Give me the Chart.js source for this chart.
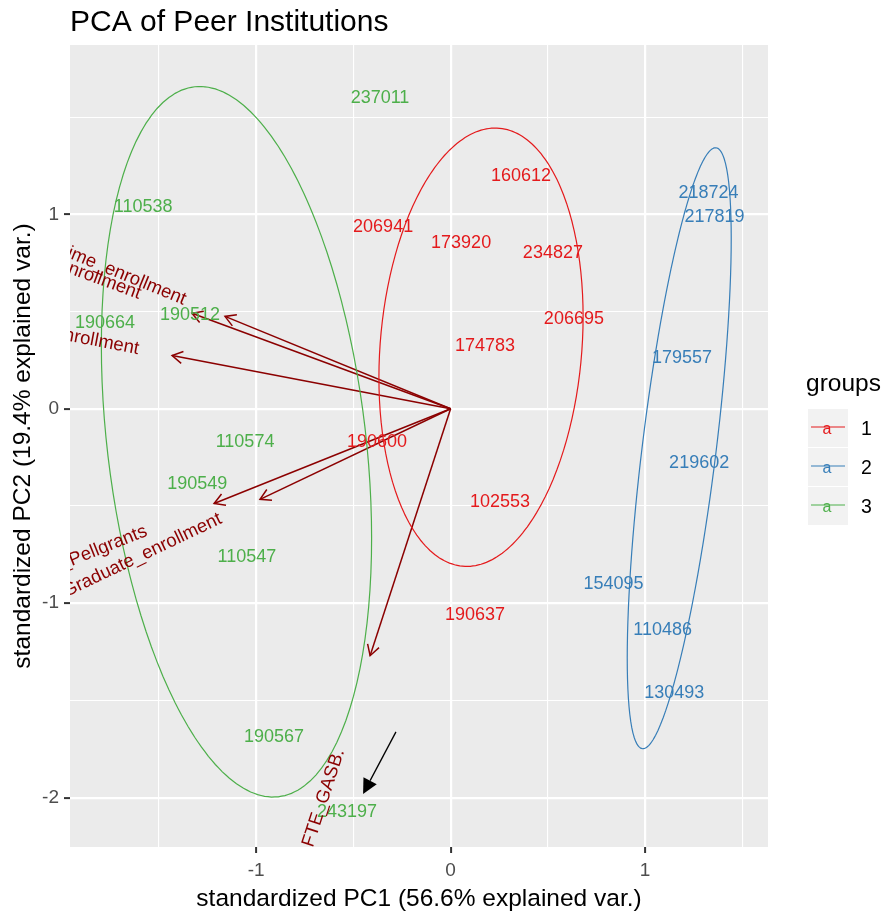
<!DOCTYPE html>
<html>
<head>
<meta charset="utf-8">
<title>PCA of Peer Institutions</title>
<script src="https://cdn.jsdelivr.net/npm/chart.js@4.4.1/dist/chart.umd.min.js"></script>
<style>
  html, body { margin: 0; padding: 0; background: #ffffff; }
  canvas { display: block; }
</style>
</head>
<body>
<canvas id="pcaChart" width="886" height="917" style="width:886px;height:917px"></canvas>
<script>
// groups and their colours (Set1)
const groupNames = ['1', '2', '3'];
const groupColors = ['#E41A1C', '#377EB8', '#4DAF4A'];

// institution scores
const group1Ids = ['160612', '206941', '173920', '234827', '206695', '174783', '190600', '102553', '190637'];
const group1PC1 = [0.362, -0.347, 0.054, 0.526, 0.634, 0.177, -0.378, 0.254, 0.125];
const group1PC2 = [1.196, 0.933, 0.851, 0.800, 0.460, 0.321, -0.171, -0.481, -1.060];

const group2Ids = ['218724', '217819', '179557', '219602', '154095', '110486', '130493'];
const group2PC1 = [1.326, 1.357, 1.190, 1.278, 0.838, 1.090, 1.150];
const group2PC2 = [1.109, 0.985, 0.259, -0.277, -0.900, -1.136, -1.461];

const group3Ids = ['237011', '110538', '190664', '190512', '110574', '190549', '110547', '190567', '243197'];
const group3PC1 = [-0.363, -1.581, -1.777, -1.340, -1.057, -1.303, -1.047, -0.908, -0.533];
const group3PC2 = [1.598, 1.036, 0.442, 0.483, -0.171, -0.387, -0.763, -1.690, -2.076];

// variable loadings (arrows)
const varNames = ['Undergraduate_enrollment', 'Full_time_enrollment', 'Total_enrollment',
                  'Pct_of_undergrads_with_Pellgrants', 'Graduate_enrollment',
                  'Instruction_expenses_per_student_FTE_GASB.'];
const varPC1 = [-1.330, -1.160, -1.432, -1.216, -0.980, -0.414];
const varPC2 = [0.491, 0.475, 0.274, -0.487, -0.466, -1.270];

// tick labels
const xTickLabels = [-1, 0, 1];
const yTickLabels = [-2, -1, 0, 1];

// the black pointer drawn on top of the picture (start, tip)
const noteArrowPC1 = [-0.281, -0.450];
const noteArrowPC2 = [-1.662, -1.981];

const FONT = "'Liberation Sans', Arial, Helvetica, sans-serif";
Chart.defaults.font.family = FONT;

function isWhole(v) {
    return Math.abs(v - Math.round(v)) < 1e-9;
}

// normal data ellipse, as ggbiplot draws it (ellipse.prob = 0.68)
function dataEllipse(xs, ys) {
    const n = xs.length;
    const mx = xs.reduce((a, b) => a + b, 0) / n;
    const my = ys.reduce((a, b) => a + b, 0) / n;
    let sxx = 0, syy = 0, sxy = 0;
    for (let i = 0; i < n; i++) {
        const dx = xs[i] - mx, dy = ys[i] - my;
        sxx += dx * dx; syy += dy * dy; sxy += dx * dy;
    }
    sxx /= (n - 1); syy /= (n - 1); sxy /= (n - 1);
    const a = Math.sqrt(sxx), b = sxy / a, c = Math.sqrt(syy - b * b);
    const ed = Math.sqrt(-2 * Math.log(1 - 0.68));
    const pts = [];
    for (let k = 0; k <= 120; k++) {
        const t = -Math.PI + 2 * Math.PI * k / 120;
        const cx = Math.cos(t), cy = Math.sin(t);
        pts.push({ x: mx + ed * cx * a, y: my + ed * (cx * b + cy * c) });
    }
    return pts;
}

function toPoints(xs, ys) {
    return xs.map((x, i) => ({ x: x, y: ys[i] }));
}

const groups = [
    { ids: group1Ids, pc1: group1PC1, pc2: group1PC2 },
    { ids: group2Ids, pc1: group2PC1, pc2: group2PC2 },
    { ids: group3Ids, pc1: group3PC1, pc2: group3PC2 }
];

const datasets = [];

// arrows first (drawn underneath)
varNames.forEach((name, i) => {
    datasets.push({
        kind: 'arrow',
        label: name,
        data: [{ x: 0, y: 0 }, { x: varPC1[i], y: varPC2[i] }],
        showLine: true,
        borderColor: '#8B0000',
        borderWidth: 1.5,
        pointRadius: 0,
        order: 3
    });
});

// invisible points carrying the institution labels
groups.forEach((g, gi) => {
    datasets.push({
        kind: 'labels',
        label: 'group ' + groupNames[gi],
        ids: g.ids,
        color: groupColors[gi],
        data: toPoints(g.pc1, g.pc2),
        pointRadius: 0,
        pointHoverRadius: 0,
        order: 2
    });
});

// ellipses (tiny tension keeps Chart.js off its fast path, which breaks closed curves)
groups.forEach((g, gi) => {
    datasets.push({
        kind: 'ellipse',
        label: 'ellipse ' + groupNames[gi],
        data: dataEllipse(g.pc1, g.pc2),
        showLine: true,
        borderColor: groupColors[gi],
        borderWidth: 1.2,
        pointRadius: 0,
        tension: 0.001,
        order: 1
    });
});

// pointer dataset, positions through the scales
datasets.push({
    kind: 'note',
    label: 'note',
    data: toPoints(noteArrowPC1, noteArrowPC2),
    pointRadius: 0,
    order: 0
});

const biplotExtras = {
    id: 'biplotExtras',
    beforeDraw(chart) {
        const { ctx, chartArea } = chart;
        ctx.save();
        ctx.fillStyle = '#EBEBEB';
        ctx.fillRect(chartArea.left, chartArea.top, chartArea.right - chartArea.left, chartArea.bottom - chartArea.top);
        ctx.restore();
    },
    afterDatasetDraw(chart, args) {
        const ds = chart.data.datasets[args.index];
        const { ctx, chartArea } = chart;
        const pts = args.meta.data;
        ctx.save();
        ctx.beginPath();
        ctx.rect(chartArea.left, chartArea.top, chartArea.right - chartArea.left, chartArea.bottom - chartArea.top);
        ctx.clip();
        if (ds.kind === 'arrow') {
            // open arrow head
            const x0 = pts[0].x, y0 = pts[0].y, x1 = pts[1].x, y1 = pts[1].y;
            const ang = Math.atan2(y1 - y0, x1 - x0);
            const len = 12, spread = Math.PI / 6;
            ctx.strokeStyle = '#8B0000';
            ctx.lineWidth = 1.5;
            ctx.beginPath();
            ctx.moveTo(x1 - len * Math.cos(ang - spread), y1 - len * Math.sin(ang - spread));
            ctx.lineTo(x1, y1);
            ctx.lineTo(x1 - len * Math.cos(ang + spread), y1 - len * Math.sin(ang + spread));
            ctx.stroke();
        } else if (ds.kind === 'labels') {
            ctx.fillStyle = ds.color;
            ctx.font = '18px ' + FONT;
            ctx.textAlign = 'center';
            ctx.textBaseline = 'middle';
            pts.forEach((p, i) => ctx.fillText(ds.ids[i], p.x, p.y));
        }
        ctx.restore();
    },
    afterDatasetsDraw(chart) {
        const { ctx, chartArea } = chart;
        ctx.save();
        ctx.beginPath();
        ctx.rect(chartArea.left, chartArea.top, chartArea.right - chartArea.left, chartArea.bottom - chartArea.top);
        ctx.clip();
        // variable names, placed like ggbiplot (varname.adjust = 1.5)
        ctx.fillStyle = '#8B0000';
        ctx.font = '18.5px ' + FONT;
        ctx.textAlign = 'left';
        ctx.textBaseline = 'middle';
        chart.data.datasets.forEach((ds, i) => {
            if (ds.kind !== 'arrow') return;
            const tip = chart.getDatasetMeta(i).data[1];
            const vx = ds.data[1].x, vy = ds.data[1].y;
            const angle = Math.atan(vy / vx);
            const hjust = (1 - 1.5 * Math.sign(vx)) / 2;
            const w = ctx.measureText(ds.label).width;
            ctx.save();
            ctx.translate(tip.x, tip.y);
            ctx.rotate(-angle);
            ctx.fillText(ds.label, -hjust * w, 0);
            ctx.restore();
        });
        // black pointer
        const noteIdx = chart.data.datasets.findIndex(d => d.kind === 'note');
        const np = chart.getDatasetMeta(noteIdx).data;
        const sx = np[0].x, sy = np[0].y, tx = np[1].x, ty = np[1].y;
        const a = Math.atan2(ty - sy, tx - sx);
        const hl = 15, hw = 7.5;
        const bx = tx - hl * Math.cos(a), by = ty - hl * Math.sin(a);
        ctx.strokeStyle = '#000000';
        ctx.fillStyle = '#000000';
        ctx.lineWidth = 1.3;
        ctx.beginPath();
        ctx.moveTo(sx, sy);
        ctx.lineTo(bx, by);
        ctx.stroke();
        ctx.beginPath();
        ctx.moveTo(tx, ty);
        ctx.lineTo(bx + hw * Math.sin(a), by - hw * Math.cos(a));
        ctx.lineTo(bx - hw * Math.sin(a), by + hw * Math.cos(a));
        ctx.closePath();
        ctx.fill();
        ctx.restore();
    },
    afterDraw(chart) {
        const { ctx } = chart;
        ctx.save();
        // title
        ctx.fillStyle = '#000000';
        ctx.font = '30px ' + FONT;
        ctx.textAlign = 'left';
        ctx.textBaseline = 'alphabetic';
        ctx.fillText('PCA of Peer Institutions', 70, 31);
        // legend
        ctx.font = '24.5px ' + FONT;
        ctx.fillText('groups', 806, 391);
        groupNames.forEach((g, i) => {
            const top = 409 + i * 39;
            const cy = top + 19;
            ctx.fillStyle = '#F2F2F2';
            ctx.fillRect(808, top, 40, 38);
            ctx.strokeStyle = groupColors[i];
            ctx.lineWidth = 1.2;
            ctx.beginPath();
            ctx.moveTo(811, cy - 1);
            ctx.lineTo(845, cy - 1);
            ctx.stroke();
            ctx.fillStyle = groupColors[i];
            ctx.font = '16px ' + FONT;
            ctx.textAlign = 'center';
            ctx.fillText('a', 827, cy + 6);
            ctx.fillStyle = '#000000';
            ctx.font = '19.5px ' + FONT;
            ctx.textAlign = 'left';
            ctx.fillText(g, 861, cy + 7);
        });
        ctx.restore();
    }
};

function gridWidth(ctx) {
    return isWhole(ctx.tick.value) ? 2.2 : 1.1;
}
function tickColor(ctx) {
    return isWhole(ctx.tick.value) ? '#333333' : 'rgba(0,0,0,0)';
}

const chart = new Chart(document.getElementById('pcaChart'), {
    type: 'scatter',
    data: { datasets: datasets },
    options: {
        responsive: false,
        devicePixelRatio: 1,
        animation: false,
        events: [],
        layout: { padding: { left: 0, right: 118, top: 45, bottom: 0 } },
        plugins: {
            legend: { display: false },
            title: { display: false },
            tooltip: { enabled: false }
        },
        scales: {
            x: {
                type: 'linear',
                min: -1.957,
                max: 1.632,
                ticks: {
                    stepSize: 0.5,
                    includeBounds: false,
                    autoSkip: false,
                    maxRotation: 0,
                    padding: 6,
                    color: '#4D4D4D',
                    font: { size: 19 },
                    callback: v => xTickLabels.some(t => Math.abs(t - v) < 1e-9) ? String(Math.round(v)) : ''
                },
                grid: { color: '#FFFFFF', lineWidth: gridWidth, tickLength: 6, tickColor: tickColor, tickWidth: 2 },
                border: { display: false },
                title: {
                    display: true,
                    text: 'standardized PC1 (56.6% explained var.)',
                    color: '#000000',
                    font: { size: 24.5 },
                    padding: { top: 0, bottom: 3 }
                },
                afterFit: s => { s.height = 70; }
            },
            y: {
                type: 'linear',
                min: -2.254,
                max: 1.871,
                ticks: {
                    stepSize: 0.5,
                    includeBounds: false,
                    autoSkip: false,
                    padding: 5,
                    color: '#4D4D4D',
                    font: { size: 19 },
                    callback: v => yTickLabels.some(t => Math.abs(t - v) < 1e-9) ? String(Math.round(v)) : ''
                },
                grid: { color: '#FFFFFF', lineWidth: gridWidth, tickLength: 6, tickColor: tickColor, tickWidth: 2 },
                border: { display: false },
                title: {
                    display: true,
                    text: 'standardized PC2 (19.4% explained var.)',
                    color: '#000000',
                    font: { size: 24.5 },
                    padding: { top: 9, bottom: 0 }
                },
                afterFit: s => { s.width = 70; }
            }
        }
    },
    plugins: [biplotExtras]
});
</script>
</body>
</html>
